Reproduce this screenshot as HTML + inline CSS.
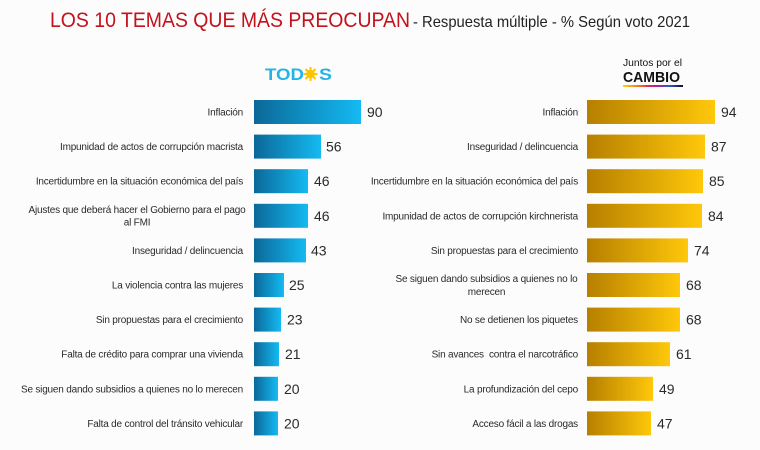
<!DOCTYPE html>
<html><head><meta charset="utf-8"><style>
html,body{margin:0;padding:0;background:#fcfcfc;}
svg{display:block;}
.lb{font-family:"Liberation Sans",sans-serif;font-size:10px;fill:#2a2a2a;letter-spacing:-0.2px;}
.v{font-family:"Liberation Sans",sans-serif;font-size:14px;fill:#2a2a2a;}
</style></head><body>
<svg width="760" height="450" viewBox="0 0 760 450" xmlns="http://www.w3.org/2000/svg">
<defs>
<linearGradient id="gb" x1="0" y1="0" x2="1" y2="0">
<stop offset="0" stop-color="#0b6898"/><stop offset="1" stop-color="#14baf2"/></linearGradient>
<linearGradient id="gy" x1="0" y1="0" x2="1" y2="0">
<stop offset="0" stop-color="#b67f00"/><stop offset="1" stop-color="#ffc80a"/></linearGradient>
<linearGradient id="stripe" x1="0" y1="0" x2="1" y2="0">
<stop offset="0" stop-color="#ffd200"/><stop offset="0.25" stop-color="#f08020"/><stop offset="0.45" stop-color="#e0205a"/><stop offset="0.6" stop-color="#9a2a9a"/><stop offset="0.78" stop-color="#2a5ac8"/><stop offset="1" stop-color="#111"/></linearGradient>
</defs>
<rect width="760" height="450" fill="#fcfcfc"/>
<text x="50" y="27" font-family="Liberation Sans, sans-serif" font-size="21" fill="#c2121c" textLength="360" lengthAdjust="spacingAndGlyphs">LOS 10 TEMAS QUE MÁS PREOCUPAN</text>
<text x="413" y="27" font-family="Liberation Sans, sans-serif" font-size="16" fill="#222" textLength="277" lengthAdjust="spacingAndGlyphs">- Respuesta múltiple - % Según voto 2021</text>

<!-- TODOS logo -->
<text x="265" y="80" font-family="Liberation Sans, sans-serif" font-weight="bold" font-size="17" fill="#22b4e6" textLength="39" lengthAdjust="spacingAndGlyphs">TOD</text>
<g transform="translate(310.5,74)" fill="#ffc400">
<circle r="4.2"/>
<g stroke="#ffc400" stroke-width="2">
<line x1="0" y1="-7" x2="0" y2="7"/><line x1="-7" y1="0" x2="7" y2="0"/>
<line x1="-5" y1="-5" x2="5" y2="5"/><line x1="-5" y1="5" x2="5" y2="-5"/></g></g>
<text x="319" y="80" font-family="Liberation Sans, sans-serif" font-weight="bold" font-size="17" fill="#22b4e6" textLength="13" lengthAdjust="spacingAndGlyphs">S</text>

<!-- Juntos por el Cambio logo -->
<text x="623" y="66" font-family="Liberation Sans, sans-serif" font-size="10" fill="#111" textLength="59" lengthAdjust="spacingAndGlyphs">Juntos por el</text>
<text x="623" y="82" font-family="Liberation Sans, sans-serif" font-weight="bold" font-size="15" fill="#111" textLength="57" lengthAdjust="spacingAndGlyphs">CAMBIO</text>
<rect x="623" y="85" width="60" height="2" fill="url(#stripe)"/>

<!-- LEFT bars -->
<g fill="url(#gb)">
<rect x="254" y="100" width="107" height="24"/>
<rect x="254" y="134.6" width="67" height="24"/>
<rect x="254" y="169.2" width="54" height="24"/>
<rect x="254" y="203.8" width="54" height="24"/>
<rect x="254" y="238.4" width="52" height="24"/>
<rect x="254" y="273" width="30" height="24"/>
<rect x="254" y="307.6" width="27" height="24"/>
<rect x="254" y="342.2" width="25" height="24"/>
<rect x="254" y="376.8" width="24" height="24"/>
<rect x="254" y="411.4" width="24" height="24"/>
</g>
<g class="lb" text-anchor="end">
<text x="243" y="115.5">Inflación</text>
<text x="243" y="150">Impunidad de actos de corrupción macrista</text>
<text x="243" y="184.7">Incertidumbre en la situación económica del país</text>
<text x="243" y="253.9">Inseguridad / delincuencia</text>
<text x="243" y="288.5">La violencia contra las mujeres</text>
<text x="243" y="323.1">Sin propuestas para el crecimiento</text>
<text x="243" y="357.7">Falta de crédito para comprar una vivienda</text>
<text x="243" y="392.3">Se siguen dando subsidios a quienes no lo merecen</text>
<text x="243" y="426.9">Falta de control del tránsito vehicular</text>
</g>
<g class="lb" text-anchor="middle">
<text x="137" y="213">Ajustes que deberá hacer el Gobierno para el pago</text>
<text x="137" y="225.5">al FMI</text>
</g>
<g class="v">
<text x="367" y="117">90</text>
<text x="326" y="151.6">56</text>
<text x="314" y="186.2">46</text>
<text x="314" y="220.8">46</text>
<text x="311" y="255.4">43</text>
<text x="289" y="290">25</text>
<text x="287" y="324.6">23</text>
<text x="285" y="359.2">21</text>
<text x="284" y="393.8">20</text>
<text x="284" y="428.4">20</text>
</g>

<!-- RIGHT bars -->
<g fill="url(#gy)">
<rect x="587" y="100" width="128" height="24"/>
<rect x="587" y="134.6" width="118" height="24"/>
<rect x="587" y="169.2" width="116" height="24"/>
<rect x="587" y="203.8" width="115" height="24"/>
<rect x="587" y="238.4" width="101" height="24"/>
<rect x="587" y="273" width="93" height="24"/>
<rect x="587" y="307.6" width="93" height="24"/>
<rect x="587" y="342.2" width="83" height="24"/>
<rect x="587" y="376.8" width="66" height="24"/>
<rect x="587" y="411.4" width="64" height="24"/>
</g>
<g class="lb" text-anchor="end">
<text x="578" y="115.5">Inflación</text>
<text x="578" y="150">Inseguridad / delincuencia</text>
<text x="578" y="184.7">Incertidumbre en la situación económica del país</text>
<text x="578" y="219.3">Impunidad de actos de corrupción kirchnerista</text>
<text x="578" y="253.9">Sin propuestas para el crecimiento</text>
<text x="578" y="323.1">No se detienen los piquetes</text>
<text x="578" y="357.7" xml:space="preserve">Sin avances  contra el narcotráfico</text>
<text x="578" y="392.3">La profundización del cepo</text>
<text x="578" y="426.9">Acceso fácil a las drogas</text>
</g>
<g class="lb" text-anchor="middle">
<text x="486.5" y="282">Se siguen dando subsidios a quienes no lo</text>
<text x="486.5" y="295">merecen</text>
</g>
<g class="v">
<text x="721" y="117">94</text>
<text x="711" y="151.6">87</text>
<text x="709" y="186.2">85</text>
<text x="708" y="220.8">84</text>
<text x="694" y="255.4">74</text>
<text x="686" y="290">68</text>
<text x="686" y="324.6">68</text>
<text x="676" y="359.2">61</text>
<text x="659" y="393.8">49</text>
<text x="657" y="428.4">47</text>
</g>
</svg>
</body></html>
